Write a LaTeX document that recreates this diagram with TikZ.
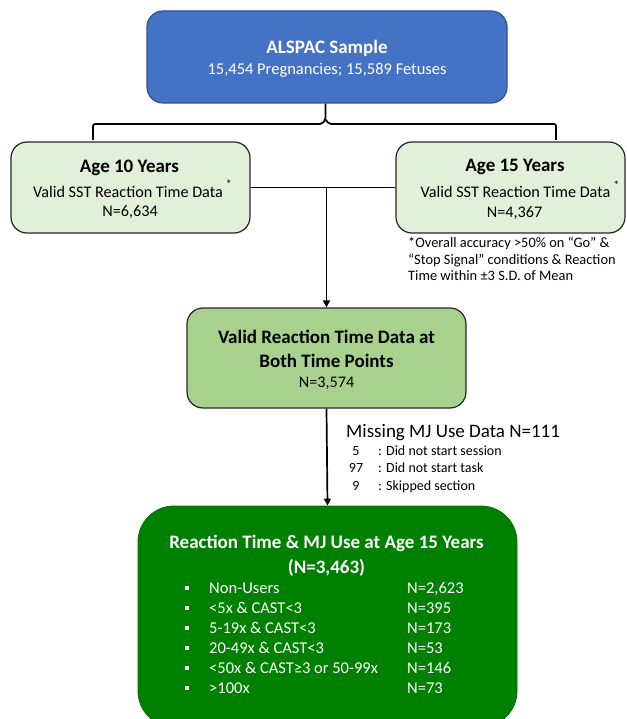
\documentclass[tikz,border=0pt]{standalone}
\usepackage{fontspec}
\setmainfont{Carlito}
\usetikzlibrary{arrows.meta}
\definecolor{topblue}{HTML}{4472C4}
\definecolor{topborder}{HTML}{2F528F}
\definecolor{paleg}{HTML}{E2F0D9}
\definecolor{midg}{HTML}{A9D18E}
\definecolor{deepg}{HTML}{008000}
\definecolor{deepgb}{HTML}{0A6A0A}
\newcommand{\myfs}[1]{\fontsize{#1}{#1}\selectfont}
\begin{document}
\begin{tikzpicture}[x=1pt,y=-1pt,
  box/.style={draw=black!85, line width=1.2pt, rounded corners=16pt, inner sep=0pt},
  txt/.style={inner sep=0pt, anchor=base},
  ltxt/.style={inner sep=0pt, anchor=base west},
  conn/.style={line width=1.7pt, draw=black},
  arr/.style={conn, -{Triangle[length=7pt,width=7pt]}},
  bullet/.style={fill=white, inner sep=0pt, minimum size=4pt}]
\useasboundingbox (0,0) rectangle (626,719);
\begin{scope}
\clip (0,0) rectangle (626,719);
% boxes
\node[box, fill=topblue, draw=topborder, minimum width=360pt, minimum height=92pt] (alspac) at (327,57) {};
\node[box, fill=paleg, minimum width=239pt, minimum height=91pt] (age10) at (130.5,187.5) {};
\node[box, fill=paleg, minimum width=229pt, minimum height=91pt] (age15) at (510.5,187.5) {};
\node[box, fill=midg, minimum width=279pt, minimum height=100pt] (valid) at (326.5,358) {};
\node[box, fill=deepg, draw=deepgb, line width=0.8pt, rounded corners=36pt, minimum width=379pt, minimum height=221pt] (final) at (327.5,616.5) {};
\end{scope}
% top box text
\node[txt, text=white] (alspacT) at (327,54) {\myfs{19}\bfseries ALSPAC Sample};
\node[txt, text=white] (alspacS) at (327,75) {\myfs{16.5}15,454 Pregnancies; 15,589 Fetuses};
% age 10
\node[txt] (a10T) at (129.5,173) {\myfs{19}\bfseries Age 10 Years};
\node[txt] (a10S) at (128,197) {\myfs{16.2}Valid SST Reaction Time Data\rlap{\raisebox{9pt}{\kern3pt\myfs{12}*}}};
\node[txt] (a10N) at (130,217) {\myfs{16.2}N=6,634};
% age 15
\node[txt] (a15T) at (515,172) {\myfs{19}\bfseries Age 15 Years};
\node[txt] (a15S) at (515.5,198) {\myfs{16.2}Valid SST Reaction Time Data\rlap{\raisebox{9pt}{\kern3pt\myfs{12}*}}};
\node[txt] (a15N) at (514.5,218) {\myfs{16.2}N=4,367};
% footnote
\node[ltxt] (fn1) at (408,247) {\myfs{14.4}*Overall accuracy >50\% on “Go” \&};
\node[ltxt] (fn2) at (408,264) {\myfs{14.4}“Stop Signal” conditions \& Reaction};
\node[ltxt] (fn3) at (408,280) {\myfs{14.4}Time within ±3 S.D. of Mean};
% valid box
\node[txt] (vT1) at (326.5,343) {\myfs{19}\bfseries Valid Reaction Time Data at};
\node[txt] (vT2) at (326.5,367) {\myfs{19}\bfseries Both Time Points};
\node[txt] (vN) at (326.5,387) {\myfs{16.2}N=3,574};
% missing
\node[ltxt] (miss) at (346,437) {\myfs{19}Missing MJ Use Data N=111};
\node[txt] (m1n) at (356,455) {\myfs{14}5};
\node[ltxt] (m1t) at (378,455) {\myfs{14}: Did not start session};
\node[txt] (m2n) at (356,472) {\myfs{14}97};
\node[ltxt] (m2t) at (378,472) {\myfs{14}: Did not start task};
\node[txt] (m3n) at (356,490) {\myfs{14}9};
\node[ltxt] (m3t) at (378,490) {\myfs{14}: Skipped section};
% final box text
\node[txt, text=white] (fT1) at (326.5,548) {\myfs{19}\bfseries Reaction Time \& MJ Use at Age 15 Years};
\node[txt, text=white] (fT2) at (326.5,573) {\myfs{19}\bfseries (N=3,463)};
\foreach \y/\lab/\val [count=\i] in {593/Non-Users/{N=2,623}, 613/<5x \& CAST<3/N=395, 633/5-19x \& CAST<3/N=173, 653/20-49x \& CAST<3/N=53, 673/<50x \& CAST≥3 or 50-99x/N=146, 693/>100x/N=73}{
  \node[bullet] (b\i) at (187,\y-5) {};
  \node[ltxt, text=white] (l\i) at (209,\y) {\myfs{16.5}\lab};
  \node[ltxt, text=white] (v\i) at (407,\y) {\myfs{16.5}\val};
}
% brace
\coordinate (bl) at (93,140);
\coordinate (br) at (556,140);
\coordinate (peakL) at (322,124);
\coordinate (peakR) at (329,124);
\coordinate (peakM) at (325.5,119.5);
\draw[conn, rounded corners=2pt] (bl) -- (93,124) -- (peakL) -- (peakM) -- (alspac.south -| peakM);
\draw[conn, rounded corners=2pt] (peakM) -- (peakR) -- (556,124) -- (br);
% connectors
\draw[conn] (age10.east) -- (age15.west);
\coordinate (j) at (326.5,187.5);
\draw[arr] (j) -- (valid.north);
\draw[arr] (valid.south) -- (final.north);
\end{tikzpicture}
\end{document}
